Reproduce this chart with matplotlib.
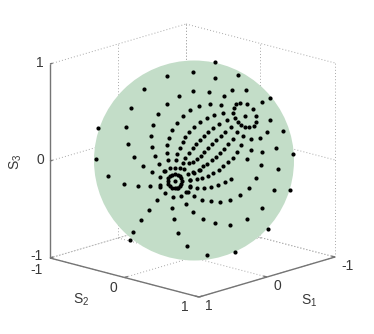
import numpy as np
import matplotlib
matplotlib.use("Agg")
import matplotlib.pyplot as plt
from matplotlib.patches import Circle

plt.rcParams['font.family'] = ['Liberation Sans', 'DejaVu Sans']

# image plane positions of the dots
dots_x = [167, 144, 179, 167, 131, 158, 183, 177, 153, 126, 98, 172, 151, 169, 185, 128, 152, 167, 183, 180,
          96, 134, 155, 167, 177, 185, 159, 168, 176, 183, 143,
          215, 193, 238, 215, 193, 209, 232, 246, 224, 270, 262, 210, 199, 221, 190, 236, 240, 247, 253,
          234, 223, 214, 207, 233, 256, 245, 235, 227, 270, 200, 256, 238, 241, 245, 249, 254, 219, 231,
          194, 213, 208, 225, 237, 267, 283, 189, 204, 221, 243, 251, 260, 200, 216, 233, 196, 212, 228,
          241, 193, 208, 224, 251, 276, 189, 204, 220, 237, 262, 293, 201, 216, 197, 212, 247, 233, 193,
          207, 228, 261, 223, 189, 203,
          194, 199, 208, 213, 219, 190, 197, 202, 231, 225, 218, 211, 204, 197, 190, 256, 249, 274, 290,
          240, 230, 220, 211, 202, 194, 188, 262, 193, 203, 215, 230, 247, 268, 235, 207, 187, 278,
          108, 124, 138, 150, 160, 160, 165, 152, 165, 173, 181, 186, 157, 149, 172, 186, 174, 141, 178,
          133, 130,
          170, 175, 180, 184, 164, 188, 190, 190, 177, 160, 193, 200]
dots_y = [76, 89, 96, 104, 108, 114, 116, 123, 125, 127, 128, 130, 136, 138, 137, 144, 147, 145, 142, 148,
          159, 157, 156, 153, 154, 158, 164, 160, 160, 163, 166,
          62, 72, 75, 78, 91, 92, 90, 90, 96, 98, 102, 104, 106, 105, 110, 104, 103, 104, 109,
          108, 113, 115, 118, 113, 116, 116, 118, 120, 120, 122, 122, 122, 125, 127, 127, 126, 124, 127,
          127, 128, 132, 132, 132, 132, 131, 132, 136, 136, 136, 139, 138, 140, 140, 139, 144, 144, 144,
          145, 148, 148, 149, 150, 148, 153, 152, 153, 152, 152, 154, 156, 157, 159, 160, 159, 158, 162,
          164, 162, 165, 166, 163, 166,
          173, 170, 176, 173, 170, 180, 179, 178, 179, 182, 185, 187, 188, 188, 186, 178, 188, 190, 190,
          195, 200, 202, 201, 200, 196, 192, 208, 212, 219, 223, 225, 219, 229, 252, 255, 246, 169,
          176, 184, 186, 186, 185, 177, 171, 172, 193, 197, 196, 192, 200, 210, 208, 204, 219, 220, 233,
          232, 240,
          168, 168, 168, 169, 171, 174, 180, 187, 188, 187, 172, 170]

# thick ring round the source spot
ring_x = [175, 182, 181.5, 180, 178, 175, 172, 170, 168.5, 168, 168.5, 170, 172, 175, 178, 180, 181.5]
ring_y = [181, 181, 178, 176, 174.5, 174, 174.5, 176, 178, 181, 184, 186, 187.5, 188, 187.5, 186, 184]

tick_values = [-1, 0, 1]
sphere_center = (194, 160.5)
sphere_radius = 100

axis_color = '#757575'
grid_color = '#a8a8a8'
text_color = '#383838'
sphere_color = '#c3ddc8'


# orthographic projection of the box on to the picture
def project(s1, s2, s3):
    x = 192.5 - 68 * s1 + 74.5 * s2
    y = 160.5 + 20 * s1 + 19.5 * s2 - 97 * s3
    return x, y


def line3(a, b, **kw):
    pa = project(*a)
    pb = project(*b)
    ax.plot([pa[0], pb[0]], [pa[1], pb[1]], **kw)


fig = plt.figure(figsize=(3.74, 3.34), dpi=100)
ax = fig.add_axes([0, 0, 1, 1])
ax.set_xlim(0, 374)
ax.set_ylim(334, 0)
ax.axis('off')

grid = dict(color=grid_color, lw=0.7, ls=(0, (1, 2.2)), zorder=1)
for v in tick_values:
    # back walls and floor
    line3((v, -1, -1), (v, -1, 1), **grid)
    line3((-1, v, -1), (-1, v, 1), **grid)
    line3((1, -1, v), (-1, -1, v), **grid)
    line3((-1, -1, v), (-1, 1, v), **grid)
    line3((v, -1, -1), (v, 1, -1), **grid)
    line3((-1, v, -1), (1, v, -1), **grid)

solid = dict(color=axis_color, lw=1.0, zorder=2, solid_capstyle='butt')
line3((1, -1, -1), (1, -1, 1), **solid)
line3((1, -1, -1), (1, 1, -1), **solid)
line3((1, 1, -1), (-1, 1, -1), **solid)
for v in tick_values:
    line3((1, -1, v), (0.96, -1, v), **solid)
    line3((v, 1, -1), (v, 0.95, -1), **solid)
    line3((1, v, -1), (0.95, v, -1), **solid)

ax.add_patch(Circle(sphere_center, sphere_radius, fc=sphere_color, ec='none', zorder=3))
ax.scatter(dots_x, dots_y, s=9, c='black', linewidths=0, zorder=4)
ax.scatter(ring_x, ring_y, s=9, c='black', linewidths=0, zorder=4)

tk = dict(fontsize=10, color=text_color, ha='center', va='center')
ax.text(40, 63, '1', **tk)
ax.text(40, 160, '0', **tk)
ax.text(37, 256.5, '-1', **tk)
ax.text(37, 270, '-1', **tk)
ax.text(113, 288, '0', **tk)
ax.text(185, 307, '1', **tk)
ax.text(209, 306, '1', **tk)
ax.text(277, 286, '0', **tk)
ax.text(348, 266, '-1', **tk)
ax.text(81, 300, r'$\mathregular{S_2}$', **tk)
ax.text(309, 301, r'$\mathregular{S_1}$', **tk)
ax.text(16, 162, r'$\mathregular{S_3}$', rotation=90, **tk)

fig.savefig('out.png', dpi=100)
